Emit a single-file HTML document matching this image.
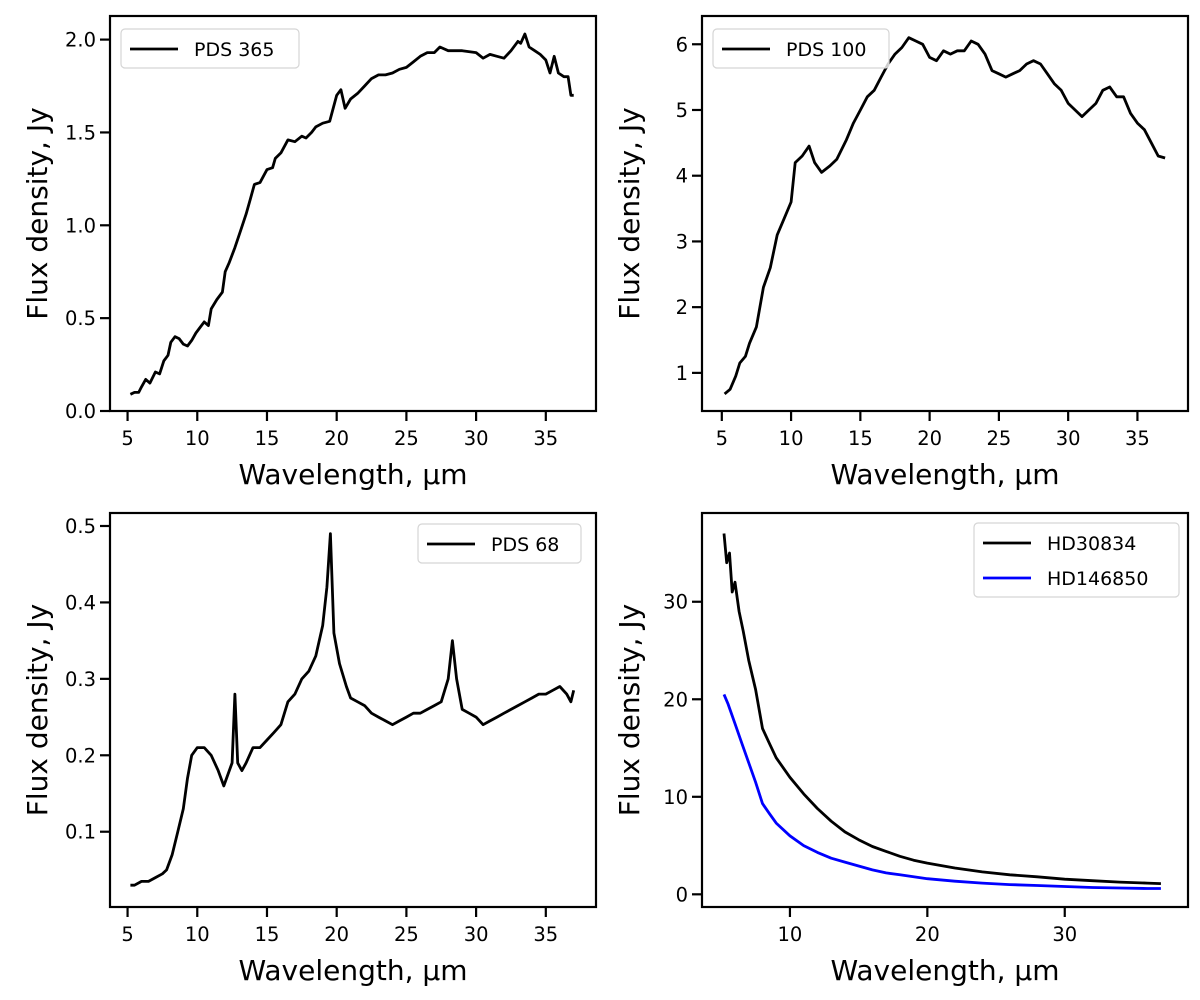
<!DOCTYPE html>
<html><head><meta charset="utf-8"><style>
body{margin:0;background:#fff}
svg{font-family:"DejaVu Sans","Liberation Sans",sans-serif}
</style></head><body>
<svg id="fig" width="1200" height="995" viewBox="0 0 1200 995" xmlns="http://www.w3.org/2000/svg"></svg>
<script>
// Panel 1: PDS 365
const p1x=[5.2,5.5,5.8,6.0,6.3,6.6,7.0,7.3,7.6,7.9,8.1,8.4,8.7,9.0,9.3,9.6,9.9,10.2,10.5,10.8,11.0,11.4,11.8,12.0,12.3,12.7,13.1,13.5,13.8,14.1,14.5,15.0,15.4,15.6,16.0,16.5,17.0,17.5,17.8,18.2,18.5,19.0,19.5,20.0,20.3,20.6,21.0,21.5,22.0,22.5,23.0,23.5,24.0,24.5,25.0,25.5,26.0,26.5,27.0,27.4,28.0,29.0,30.0,30.5,31.0,31.5,32.0,32.5,33.0,33.2,33.5,33.8,34.2,34.6,35.0,35.3,35.6,35.9,36.3,36.6,36.8,37.0];
const p1y=[0.09,0.10,0.10,0.13,0.17,0.15,0.21,0.20,0.27,0.30,0.37,0.40,0.39,0.36,0.35,0.38,0.42,0.45,0.48,0.46,0.55,0.60,0.64,0.75,0.80,0.88,0.97,1.06,1.14,1.22,1.23,1.30,1.31,1.36,1.39,1.46,1.45,1.48,1.47,1.50,1.53,1.55,1.56,1.70,1.73,1.63,1.68,1.71,1.75,1.79,1.81,1.81,1.82,1.84,1.85,1.88,1.91,1.93,1.93,1.96,1.94,1.94,1.93,1.90,1.92,1.91,1.90,1.94,1.99,1.98,2.03,1.96,1.94,1.92,1.89,1.82,1.91,1.82,1.80,1.80,1.70,1.70];
// Panel 2: PDS 100
const p2x=[5.2,5.6,6.0,6.3,6.7,7.0,7.5,8.0,8.5,9.0,9.5,10.0,10.3,10.8,11.3,11.7,12.2,12.8,13.3,14.0,14.5,15.0,15.5,16.0,16.5,17.0,17.5,18.0,18.5,19.0,19.5,20.0,20.5,21.0,21.5,22.0,22.5,23.0,23.5,24.0,24.5,25.0,25.5,26.0,26.5,27.0,27.5,28.0,28.5,29.0,29.5,30.0,30.5,31.0,31.5,32.0,32.5,33.0,33.5,34.0,34.5,35.0,35.5,36.0,36.5,37.0];
const p2y=[0.68,0.75,0.95,1.15,1.25,1.45,1.7,2.3,2.6,3.1,3.35,3.6,4.2,4.3,4.45,4.2,4.05,4.15,4.25,4.55,4.8,5.0,5.2,5.3,5.5,5.7,5.85,5.95,6.1,6.05,6.0,5.8,5.75,5.9,5.85,5.9,5.9,6.05,6.0,5.85,5.6,5.55,5.5,5.55,5.6,5.7,5.75,5.7,5.55,5.4,5.3,5.1,5.0,4.9,5.0,5.1,5.3,5.35,5.2,5.2,4.95,4.8,4.7,4.5,4.3,4.27];
// Panel 3: PDS 68
const p3x=[5.2,5.5,6.0,6.5,7.0,7.5,7.8,8.2,8.6,9.0,9.3,9.6,10.0,10.5,11.0,11.5,11.9,12.3,12.5,12.7,12.9,13.2,13.5,14.0,14.5,15.0,15.5,16.0,16.5,17.0,17.5,18.0,18.5,19.0,19.3,19.55,19.8,20.2,20.7,21.0,21.5,22.0,22.5,23.0,23.5,24.0,24.5,25.0,25.5,26.0,26.5,27.0,27.5,28.0,28.3,28.6,29.0,29.5,30.0,30.5,31.0,31.5,32.0,32.5,33.0,33.5,34.0,34.5,35.0,35.5,36.0,36.5,36.8,37.0];
const p3y=[0.03,0.03,0.035,0.035,0.04,0.045,0.05,0.07,0.10,0.13,0.17,0.20,0.21,0.21,0.20,0.18,0.16,0.18,0.19,0.28,0.19,0.18,0.19,0.21,0.21,0.22,0.23,0.24,0.27,0.28,0.30,0.31,0.33,0.37,0.42,0.49,0.36,0.32,0.29,0.275,0.27,0.265,0.255,0.25,0.245,0.24,0.245,0.25,0.255,0.255,0.26,0.265,0.27,0.30,0.35,0.30,0.26,0.255,0.25,0.24,0.245,0.25,0.255,0.26,0.265,0.27,0.275,0.28,0.28,0.285,0.29,0.28,0.27,0.285];
// Panel 4: HD30834 and HD146850
const p4ax=[5.2,5.4,5.6,5.8,6.0,6.3,6.6,7.0,7.5,8.0,8.5,9,10,11,12,13,14,15,16,17,18,19,20,22,24,26,28,30,32,34,36,37];
const p4ay=[37,34,35,31,32,29,27,24,21,17,15.5,14,12,10.3,8.8,7.5,6.4,5.6,4.9,4.4,3.9,3.5,3.2,2.7,2.3,2.0,1.8,1.55,1.4,1.25,1.15,1.1];
const p4bx=[5.2,5.5,6,6.5,7,7.5,8,8.5,9,10,11,12,13,14,15,16,17,18,20,22,24,26,28,30,32,34,36,37];
const p4by=[20.5,19.5,17.5,15.5,13.5,11.5,9.3,8.3,7.3,6.0,5.0,4.3,3.7,3.3,2.9,2.5,2.2,2.0,1.6,1.35,1.15,1.0,0.9,0.8,0.7,0.65,0.6,0.6];
const xt1=[5,10,15,20,25,30,35];
const xt4=[10,20,30];
const yt1=[0,0.5,1.0,1.5,2.0], yt1l=["0.0","0.5","1.0","1.5","2.0"];
const yt2=[1,2,3,4,5,6];
const yt3=[0.1,0.2,0.3,0.4,0.5];
const yt4=[0,10,20,30];

const NS="http://www.w3.org/2000/svg";
const fig=document.getElementById('fig');
function mk(tag,attrs,parent){const e=document.createElementNS(NS,tag);for(const k in attrs)e.setAttribute(k,attrs[k]);(parent||fig).appendChild(e);return e;}

function panel(name,box,xd,yd,xt,xtl,yt,ytl,series,legend){
  const [L,T,R,B]=box;
  const g=mk('g',{});
  
  
  const sx=v=>L+(v-xd[0])/(xd[1]-xd[0])*(R-L);
  const sy=v=>B-(v-yd[0])/(yd[1]-yd[0])*(B-T);
  series.forEach(s=>{
    const d=s.x.map((v,i)=>(i?'L':'M')+sx(v).toFixed(1)+' '+sy(s.y[i]).toFixed(1)).join(' ');
    const p=mk('path',{d:d,fill:'none',stroke:s.c,'stroke-width':2.8,'stroke-linejoin':'round'},g);
    
    
  });
  const fr=mk('rect',{x:L,y:T,width:R-L,height:B-T,fill:'none',stroke:'#000','stroke-width':2.2},g);
  
  
  xt.forEach((v,i)=>{
    const x=sx(v);
    mk('line',{x1:x,x2:x,y1:B,y2:B+10,stroke:'#000','stroke-width':2.2},g);
    const t=mk('text',{x:x,y:B+34,'font-size':19.5,'text-anchor':'middle'},g);
    t.textContent=xtl[i];
    
    
  });
  yt.forEach((v,i)=>{
    const y=sy(v);
    mk('line',{x1:L-10,x2:L,y1:y,y2:y,stroke:'#000','stroke-width':2.2},g);
    const t=mk('text',{x:L-14,y:y+7,'font-size':19.5,'text-anchor':'end'},g);
    t.textContent=ytl[i];
    
    
  });
  const xl=mk('text',{x:(L+R)/2,y:B+73,'font-size':28,'text-anchor':'middle'},g);
  xl.textContent='Wavelength, µm';
  
  
  const cy=(T+B)/2, cx=L-63;
  const yl=mk('text',{x:cx,y:cy,'font-size':28,'text-anchor':'middle',transform:`rotate(-90 ${cx} ${cy})`},g);
  yl.textContent='Flux density, Jy';
  
  
  const [lx,ly,lw,lh]=legend;
  const lg=mk('g',{},g);
  
  
  mk('rect',{x:lx,y:ly,width:lw,height:lh,rx:4,fill:'#fff','fill-opacity':0.8,stroke:'#d5d5d5','stroke-width':1.2},lg);
  series.forEach((s,i)=>{
    const yy=ly+20+i*35;
    mk('line',{x1:lx+9,x2:lx+57,y1:yy,y2:yy,stroke:s.c,'stroke-width':2.8},lg);
    const t=mk('text',{x:lx+73,y:yy+7,'font-size':19},lg);
    t.textContent=s.label;
    
    
  });
}
panel('panel-pds365',[110,16,596,411],[3.74,38.6],[0,2.127],xt1,xt1.map(String),yt1,yt1l,
  [{x:p1x,y:p1y,c:'#000',n:'pds365-line',label:'PDS 365'}],[121,29,178,39]);
panel('panel-pds100',[702,16,1188,411],[3.57,38.65],[0.42,6.43],xt1,xt1.map(String),yt2,yt2.map(String),
  [{x:p2x,y:p2y,c:'#000',n:'pds100-line',label:'PDS 100'}],[713,29,176,39]);
panel('panel-pds68',[110,513,596,907],[3.74,38.6],[0.0015,0.517],xt1,xt1.map(String),yt3,yt3.map(String),
  [{x:p3x,y:p3y,c:'#000',n:'pds68-line',label:'PDS 68'}],[418,524,163,39]);
panel('panel-hd',[702,513,1188,907],[3.6,38.97],[-1.3,39.1],xt4,xt4.map(String),yt4,yt4.map(String),
  [{x:p4ax,y:p4ay,c:'#000',n:'hd30834-line',label:'HD30834'},{x:p4bx,y:p4by,c:'#0000ff',n:'hd146850-line',label:'HD146850'}],[974,523,205,74]);
</script>
</body></html>
